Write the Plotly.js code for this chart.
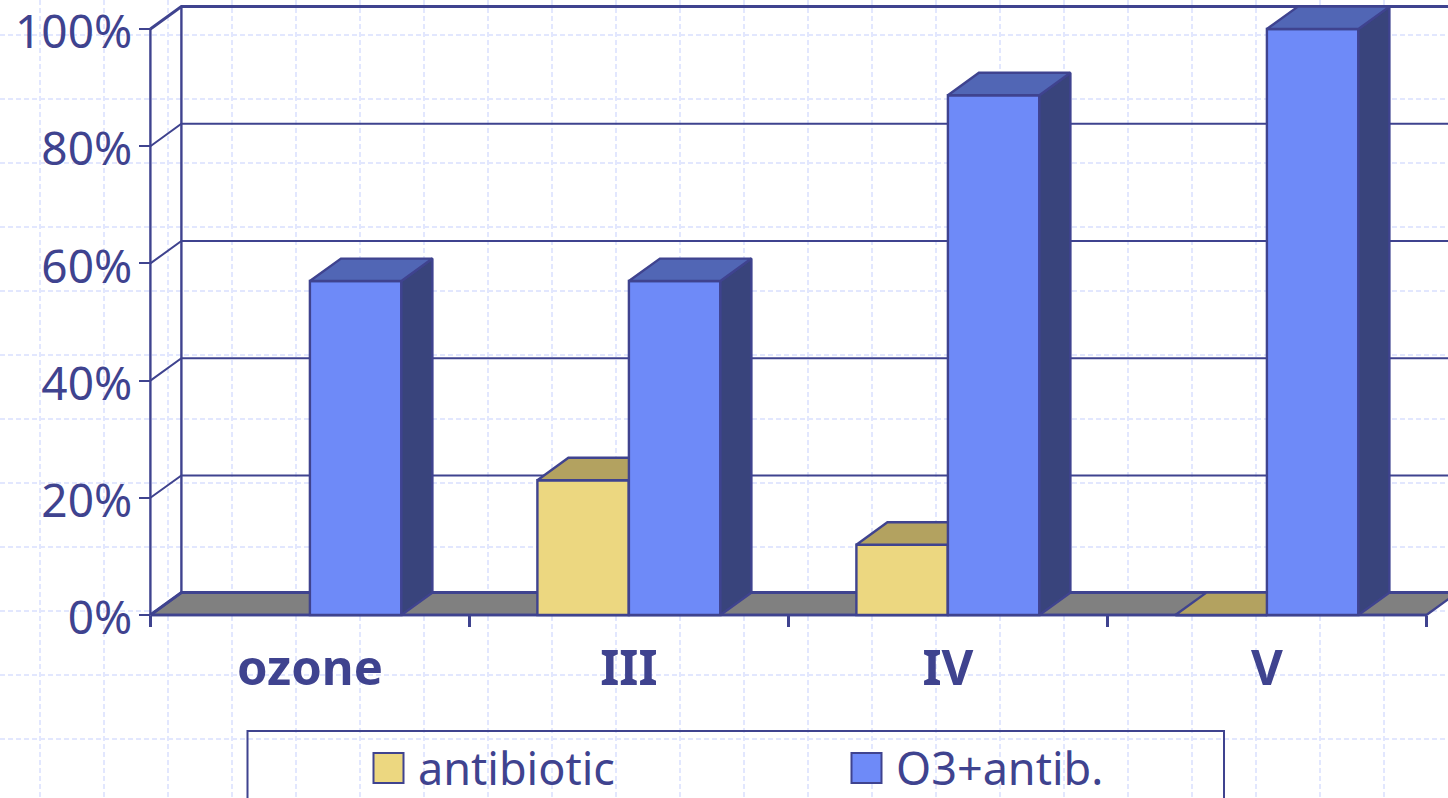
<!DOCTYPE html>
<html>
<head>
<meta charset="utf-8">
<script src="https://cdn.plot.ly/plotly-3.0.1.min.js"></script>
<style>html,body{margin:0;padding:0;background:#fff;overflow:hidden}#c{width:1448px;height:798px}</style>
</head>
<body>
<div id="c"></div>
<script>
const categories = ['ozone', 'III', 'IV', 'V'];
const antibiotic = [null, 23, 12, 0];
const o3Antib = [57, 57, 88.7, 100];
const seriesNames = ['antibiotic', 'O3+antib.'];
const valueTicks = [0, 20, 40, 60, 80, 100];

const INK = '#3f438f';
const colors = {
  antibiotic: {front: '#ecd780', top: '#b3a260', side: '#8f8250'},
  o3: {front: '#6e8af8', top: '#5166b5', side: '#39447c'}
};
const W = 1448, H = 798;
const pxPerCat = 319, pxPerPct = 5.86;
const X0 = 150.4, Y0 = 615;
const barW = 91.5 / pxPerCat;
const dx = 31 / pxPerCat, dy = 22.4 / pxPerPct;
const catL = -0.5, catR = categories.length - 0.5;

const xR = [catL - 10 / pxPerCat, catL + (W - X0) / pxPerCat];
const yR = [-(640 - Y0) / pxPerPct, Y0 / pxPerPct];

function poly(xs, ys, fill, axes) {
  return Object.assign({
    type: 'scatter', mode: 'lines', x: xs.concat(xs[0]), y: ys.concat(ys[0]),
    fill: 'toself', fillcolor: fill, line: {color: INK, width: 2.4, simplify: false},
    hoverinfo: 'skip', showlegend: false, cliponaxis: false
  }, axes);
}
function line(xs, ys, width) {
  return {type: 'scatter', mode: 'lines', x: xs, y: ys, xaxis: 'x2', yaxis: 'y2',
    line: {color: INK, width: width}, hoverinfo: 'skip', showlegend: false, cliponaxis: false};
}
const traces = [];

// floor and walls
traces.push(poly([catL, catL + dx, catR + dx, catR], [0, dy, dy, 0], '#808080', {xaxis: 'x2', yaxis: 'y2'}));
valueTicks.forEach(v => {
  traces.push(line([catL, catL + dx, catR + dx], [v, v + dy, v + dy], v === 0 || v === 100 ? 3 : 2));
});
traces.push(line([catL, catL], [0, 100], 2.4));
traces.push(line([catL + dx, catL + dx], [dy, 100 + dy], 2.4));
traces.push(line([catL, catR], [0, 0], 2.6));

function addSeries(name, vals, offset, pal, ax) {
  const axes = {xaxis: ax[0], yaxis: ax[1]};
  traces.push(Object.assign({
    type: 'bar', name: name, x: categories.map((c, i) => i), y: vals,
    width: barW, offset: offset,
    marker: {color: pal.front, line: {color: INK, width: 2.4}},
    cliponaxis: false, hoverinfo: 'name+y', showlegend: false
  }, axes));
  vals.forEach((v, i) => {
    if (v === null) return;
    const a = i + offset, b = a + barW;
    traces.push(poly([b, b + dx, b + dx, b], [0, dy, v + dy, v], pal.side, axes));
    traces.push(poly([a, a + dx, b + dx, b], [v, v + dy, v + dy, v], pal.top, axes));
  });
}
addSeries(seriesNames[0], antibiotic, -barW, colors.antibiotic, ['x3', 'y3']);
addSeries(seriesNames[1], o3Antib, 0, colors.o3, ['x4', 'y4']);

const gridStyle = {showgrid: true, gridcolor: '#e2e7fe', gridwidth: 1.6, griddash: '5px,3px',
  zeroline: false, showticklabels: false, ticks: '', showline: false, fixedrange: true};
const domX = [(X0 - 10) / W, 1], domY = [1 - 640 / H, 1];
const hiddenX = {overlaying: 'x2', range: xR, visible: false, fixedrange: true, domain: domX};
const hiddenY = {overlaying: 'y2', range: yR, visible: false, fixedrange: true, domain: domY};

const legendItems = [
  {swatch: 373.5, text: 418, name: seriesNames[0], color: colors.antibiotic.front},
  {swatch: 851.5, text: 896, name: seriesNames[1], color: colors.o3.front}
];
const shapes = [{type: 'rect', xref: 'x', yref: 'y', x0: 247.5, x1: 1224, y0: 731, y1: 830,
  line: {color: INK, width: 2}, fillcolor: 'rgba(0,0,0,0)'}];
legendItems.forEach(it => shapes.push({type: 'rect', xref: 'x', yref: 'y',
  x0: it.swatch, x1: it.swatch + 30, y0: 753, y1: 783, line: {color: INK, width: 2}, fillcolor: it.color}));

const layout = {
  width: W, height: H, margin: {l: 0, r: 0, t: 0, b: 0, pad: 0}, autosize: false,
  paper_bgcolor: '#fff', plot_bgcolor: 'rgba(0,0,0,0)', showlegend: false, hovermode: false,
  font: {family: '"Noto Sans", sans-serif', color: INK, size: 45},
  xaxis: Object.assign({range: [0, W], domain: [0, 1], tick0: 40, dtick: 64, anchor: 'y'}, gridStyle),
  yaxis: Object.assign({range: [H, 0], domain: [0, 1], tick0: 35, dtick: 64, anchor: 'x'}, gridStyle),
  xaxis2: {
    range: xR, domain: domX, anchor: 'free', position: 1 - Y0 / H, fixedrange: true,
    showgrid: false, zeroline: false, showline: false,
    tickmode: 'array', tickvals: categories.map((c, i) => i), ticktext: categories,
    ticks: 'outside', ticklen: 0, tickwidth: 0, ticklabelstandoff: 10,
    tickfont: {family: '"Noto Sans", sans-serif', size: 49, color: INK, weight: 700},
    minor: {tickmode: 'linear', tick0: catL, dtick: 1, ticks: 'outside', ticklen: 11, tickwidth: 2.2, tickcolor: INK, showgrid: false}
  },
  yaxis2: {
    range: yR, domain: domY, anchor: 'free', position: X0 / W, fixedrange: true,
    showgrid: false, zeroline: false, showline: false,
    tickmode: 'array', tickvals: valueTicks, ticktext: valueTicks.map(v => v + '%'),
    ticks: 'outside', ticklen: 11, tickwidth: 2.2, tickcolor: INK, ticklabelstandoff: -2,
    ticklabeloverflow: 'allow', ticklabelshift: 3,
    tickfont: {family: '"Noto Sans", sans-serif', size: 46, color: INK}
  },
  xaxis3: Object.assign({anchor: 'y3'}, hiddenX),
  yaxis3: Object.assign({anchor: 'x3'}, hiddenY),
  xaxis4: Object.assign({anchor: 'y4'}, hiddenX),
  yaxis4: Object.assign({anchor: 'x4'}, hiddenY),
  barmode: 'overlay',
  shapes: shapes,
  annotations: legendItems.map(it => ({xref: 'x', yref: 'y', x: it.text, y: 767, text: it.name,
    showarrow: false, xanchor: 'left', yanchor: 'middle', xshift: -2,
    font: {family: '"Noto Sans", sans-serif', size: 45, color: INK}}))
};
traces.unshift({type: 'scatter', mode: 'markers', x: [0], y: [0], xaxis: 'x', yaxis: 'y',
  marker: {opacity: 0}, hoverinfo: 'skip', showlegend: false});
Plotly.newPlot('c', traces, layout, {displayModeBar: false, staticPlot: true});
</script>
</body>
</html>
